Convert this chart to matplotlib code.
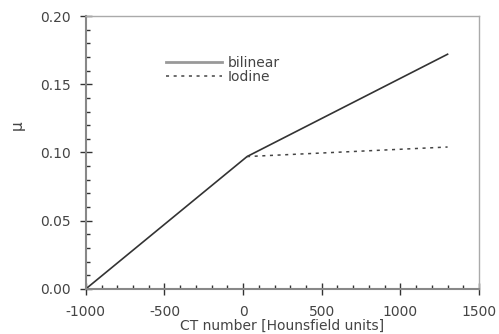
import matplotlib
matplotlib.use('Agg')
import matplotlib.pyplot as plt
from matplotlib.ticker import MultipleLocator

# Data
bilinear_x = [-1000, 25, 1300]
bilinear_y = [0.0, 0.097, 0.172]
iodine_x = [25, 1300]
iodine_y = [0.097, 0.104]

xticks = [-1000, -500, 0, 500, 1000, 1500]
yticks = [0.00, 0.05, 0.10, 0.15, 0.20]

txt = '#444444'
plt.rcParams['font.family'] = 'DejaVu Sans'
plt.rcParams['font.size'] = 10

fig = plt.figure(figsize=(4.99, 3.34), dpi=100)
ax = fig.add_axes([0.172, 0.135, 0.788, 0.817])

ax.plot(bilinear_x, bilinear_y, color='#333333', lw=1.2, label='bilinear')
ax.plot(iodine_x, iodine_y, color='#444444', lw=1.1, ls=(0, (2, 3)), label='Iodine')

ax.set_xlim(-1000, 1500)
ax.set_ylim(0, 0.20)
ax.set_xticks(xticks)
ax.set_yticks(yticks)
ax.set_xticklabels([str(v) for v in xticks])
ax.set_yticklabels(['%.2f' % v for v in yticks])
ax.xaxis.set_minor_locator(MultipleLocator(100))
ax.yaxis.set_minor_locator(MultipleLocator(0.01))

ax.tick_params(which='major', direction='inout', length=9, width=1.0, color='#333333',
               labelcolor=txt, labelsize=10)
ax.tick_params(which='minor', direction='in', length=3, width=1.0, color='#333333')
ax.tick_params(axis='x', pad=7)
ax.tick_params(axis='y', pad=6)

for s in ['left', 'bottom']:
    ax.spines[s].set_color('#888888')
    ax.spines[s].set_linewidth(1.5)
for s in ['top', 'right']:
    ax.spines[s].set_color('#aaaaaa')
    ax.spines[s].set_linewidth(1.0)

ax.set_xlabel('CT number [Hounsfield units]', color=txt, fontsize=10)
ax.xaxis.set_label_coords(0.5, -0.11)
ax.set_ylabel('μ', color=txt, fontsize=11, rotation=90)
ax.yaxis.set_label_coords(-0.155, 0.6)

leg = ax.legend(loc='upper left', bbox_to_anchor=(0.204, 0.855), frameon=False,
                borderpad=0, borderaxespad=0,
                fontsize=10, handlelength=4.0, handletextpad=0.45, labelspacing=0.0)
leg.get_lines()[0].set_color('#999999')
leg.get_lines()[0].set_linewidth(2)
for t in leg.get_texts():
    t.set_color(txt)

fig.savefig('out.png', dpi=100)
